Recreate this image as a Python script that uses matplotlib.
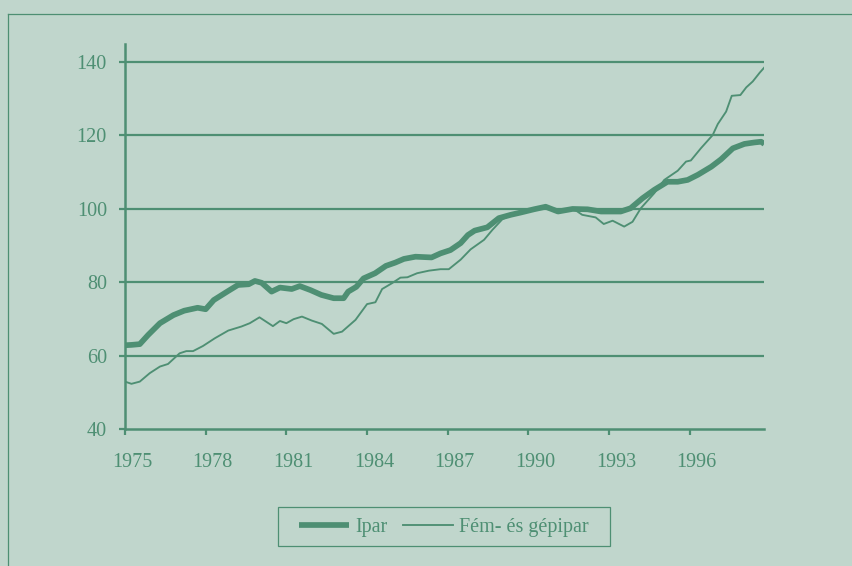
import matplotlib
matplotlib.use('Agg')
import matplotlib.pyplot as plt
from matplotlib.lines import Line2D
from matplotlib.patches import Rectangle
from matplotlib.transforms import ScaledTranslation

# index series (1990 = 100)
years_ipar = [1975.0, 1975.25, 1975.55, 1975.86, 1976.3, 1976.8, 1977.2, 1977.7, 1978.0, 1978.3,
              1978.8, 1979.2, 1979.6, 1979.83, 1980.08, 1980.45, 1980.76, 1981.2, 1981.5, 1981.9,
              1982.3, 1982.76, 1983.13, 1983.3, 1983.6, 1983.87, 1984.3, 1984.7, 1985.05, 1985.37,
              1985.8, 1986.4, 1986.73, 1987.1, 1987.48, 1987.75, 1988.0, 1988.47, 1988.9, 1989.34,
              1989.7, 1990.2, 1990.64, 1991.1, 1991.64, 1992.2, 1992.7, 1993.43, 1993.8, 1994.24,
              1994.68, 1995.17, 1995.55, 1995.92, 1996.3, 1996.8, 1997.16, 1997.6, 1998.03, 1998.4,
              1998.65, 1998.77]
ipar = [62.8, 62.9, 63.1, 65.6, 68.8, 71.0, 72.2, 73.0, 72.6, 75.1,
        77.4, 79.2, 79.4, 80.3, 79.8, 77.4, 78.5, 78.1, 78.9, 77.8,
        76.5, 75.6, 75.6, 77.4, 78.7, 81.0, 82.4, 84.4, 85.3, 86.3,
        86.9, 86.7, 87.8, 88.7, 90.6, 92.8, 94.0, 94.9, 97.4, 98.3,
        98.9, 99.8, 100.5, 99.2, 99.9, 99.8, 99.2, 99.2, 100.1, 102.8,
        105.1, 107.3, 107.3, 107.8, 109.2, 111.4, 113.4, 116.4, 117.6, 118.0,
        118.2, 117.6]

years_fem = [1975.0, 1975.24, 1975.55, 1975.92, 1976.3, 1976.6, 1977.03, 1977.28, 1977.53, 1977.9,
             1978.34, 1978.84, 1979.33, 1979.64, 1980.0, 1980.5, 1980.76, 1981.0, 1981.27, 1981.58,
             1981.95, 1982.32, 1982.76, 1983.07, 1983.57, 1984.0, 1984.31, 1984.56, 1984.93, 1985.24,
             1985.5, 1985.86, 1986.3, 1986.73, 1987.04, 1987.48, 1987.85, 1988.35, 1988.66, 1989.03,
             1989.46, 1990.2, 1990.64, 1991.1, 1991.7, 1992.0, 1992.5, 1992.8, 1993.13, 1993.56,
             1993.87, 1994.18, 1994.68, 1995.05, 1995.55, 1995.86, 1996.04, 1996.41, 1996.85, 1997.04,
             1997.35, 1997.56, 1997.88, 1998.1, 1998.34, 1998.6, 1998.77]
fem = [52.9, 52.3, 52.9, 55.2, 57.0, 57.7, 60.6, 61.2, 61.2, 62.6,
       64.7, 66.8, 67.9, 68.8, 70.4, 68.0, 69.4, 68.8, 69.9, 70.6,
       69.5, 68.6, 65.9, 66.5, 69.7, 74.0, 74.5, 78.1, 79.7, 81.2,
       81.3, 82.4, 83.1, 83.5, 83.5, 86.1, 88.9, 91.5, 94.2, 97.1,
       98.7, 99.8, 100.5, 99.2, 99.8, 98.3, 97.6, 95.8, 96.7, 95.1,
       96.4, 100.1, 104.2, 107.8, 110.3, 112.8, 113.1, 116.4, 120.0, 123.0,
       126.4, 130.7, 130.9, 133.0, 134.6, 137.0, 138.4]

xticks = [1975, 1978, 1981, 1984, 1987, 1990, 1993, 1996]
yticks = [40, 60, 80, 100, 120, 140]
labels = ['Ipar', 'Fém- és gépipar']

bg = '#c0d6cc'
green = '#4e8f73'
fs = 14.5

plt.rcParams['font.family'] = ['Liberation Serif', 'DejaVu Serif']
fig = plt.figure(figsize=(8.52, 5.66), dpi=100, facecolor=bg)
W, H = 852.0, 566.0
ax = fig.add_axes([125 / W, 1 - 429 / H, (764.3 - 125) / W, (429 - 44) / H])
ax.set_facecolor(bg)

ax.plot(years_ipar, ipar, color=green, lw=4.1, solid_joinstyle='round', solid_capstyle='butt',
        label=labels[0], zorder=3)
ax.plot(years_fem, fem, color=green, lw=1.35, solid_joinstyle='round', label=labels[1], zorder=4)

ax.set_xlim(1975, 1998.77)
ax.set_ylim(40, 144.8)
ax.set_yticks(yticks)
ax.set_xticks(xticks)
ax.set_xticklabels([str(y) for y in xticks])
for v in yticks[1:]:
    ax.axhline(v, color=green, lw=1.6, zorder=1)

for s in ['top', 'right']:
    ax.spines[s].set_visible(False)
for s in ['left', 'bottom']:
    ax.spines[s].set_color(green)
    ax.spines[s].set_linewidth(1.8)
ax.tick_params(axis='both', direction='out', length=4.5, width=1.6, color=green,
               labelcolor=green, labelsize=fs)
ax.tick_params(axis='y', pad=8.5)
ax.tick_params(axis='x', pad=13)
for lbl in ax.get_xticklabels():
    lbl.set_transform(lbl.get_transform() + ScaledTranslation(0.07, 0, fig.dpi_scale_trans))

leg = fig.legend(loc='center', bbox_to_anchor=(443.9 / W, 1 - 527 / H), ncol=2, frameon=False,
                 fontsize=fs, handlelength=2.5, handletextpad=0.3, columnspacing=0.75)
for t in leg.get_texts():
    t.set_color(green)
fig.add_artist(Rectangle((278 / W, 1 - 546 / H), (609.7 - 278) / W, (546 - 506.7) / H,
                         transform=fig.transFigure, fill=False, edgecolor=green, lw=0.9))

# outer frame: only top and left edges are inside the picture
fig.add_artist(Line2D([7.5 / W, 7.5 / W], [0, 1 - 14 / H], transform=fig.transFigure, color=green, lw=0.9))
fig.add_artist(Line2D([7.5 / W, 1], [1 - 14 / H, 1 - 14 / H], transform=fig.transFigure, color=green, lw=0.9))

fig.savefig('out.png', dpi=100, facecolor=bg)
plt.close(fig)
